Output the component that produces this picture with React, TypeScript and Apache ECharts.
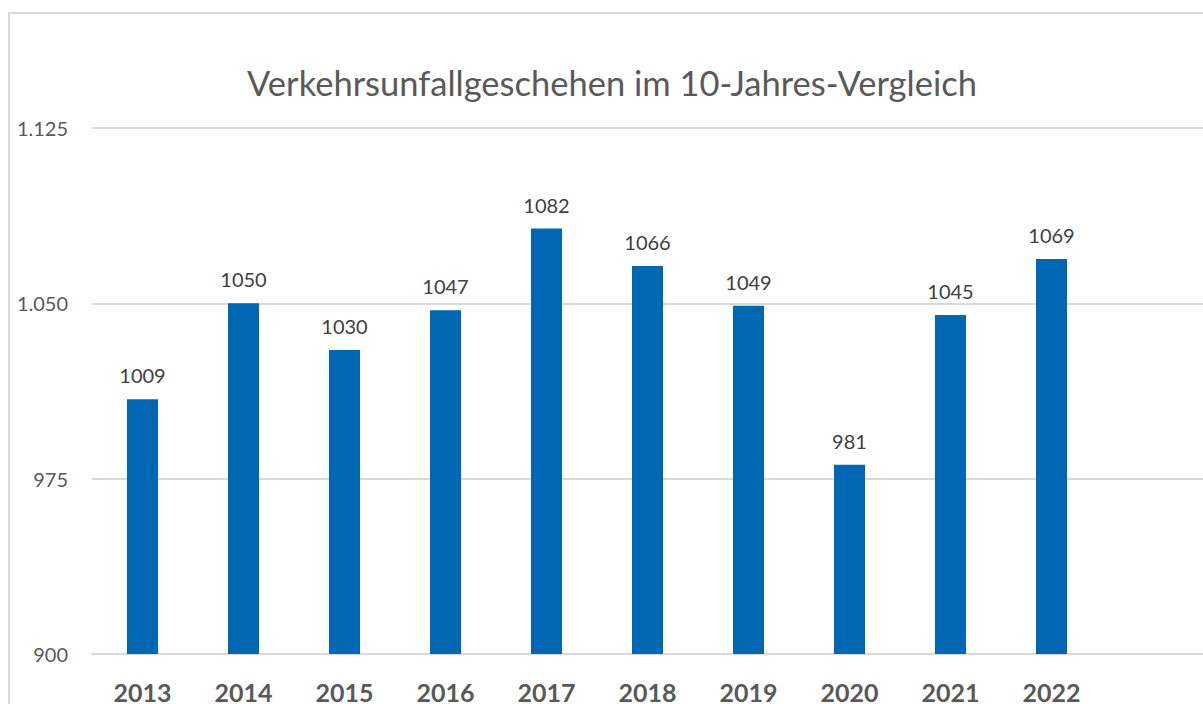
import React, { useEffect, useRef } from "react";
import * as echarts from "echarts";

const categories = ["2013", "2014", "2015", "2016", "2017", "2018", "2019", "2020", "2021", "2022", ""];
const values = [1009, 1050, 1030, 1047, 1082, 1066, 1049, 981, 1045, 1069, null];
const titleText = "Verkehrsunfallgeschehen im 10-Jahres-Vergleich";

export default function App() {
  const ref = useRef<HTMLDivElement>(null);
  useEffect(() => {
    if (!ref.current) return;
    const chart = echarts.init(ref.current, null, { renderer: "svg" });
    chart.setOption({
      animation: false,
      backgroundColor: "#ffffff",
      textStyle: { fontFamily: "Lato" },
      graphic: [
        {
          type: "rect",
          shape: { x: 9, y: 13, width: 1400, height: 900 },
          style: { fill: "none", stroke: "#d9d9d9", lineWidth: 2 },
          silent: true,
          z: -1,
        },
        {
          type: "text",
          x: 612,
          y: 82,
          style: {
            text: titleText,
            fontFamily: "Lato",
            fontSize: 34.5,
            fill: "#595959",
            textAlign: "center",
            textVerticalAlign: "middle",
          },
        },
      ],
      grid: { left: 92, top: 128, width: 1111, height: 531, containLabel: false },
      xAxis: {
        type: "category",
        data: categories,
        axisLine: { show: true, lineStyle: { color: "#d9d9d9", width: 2 } },
        axisTick: { show: false },
        axisLabel: {
          interval: 0,
          margin: 25,
          fontSize: 25,
          fontWeight: "bold",
          color: "#595959",
          fontFamily: "Lato",
        },
      },
      yAxis: {
        type: "value",
        min: 900,
        max: 1125,
        interval: 75,
        axisLine: { show: false },
        axisTick: { show: false },
        splitLine: { lineStyle: { color: "#d9d9d9", width: 2 } },
        axisLabel: {
          margin: 24,
          fontSize: 20,
          color: "#595959",
          fontFamily: "Lato",
          padding: [2, 0, 0, 0],
          formatter: (v: number) => {
            const s = String(v);
            return s.length > 3 ? s.slice(0, s.length - 3) + "." + s.slice(-3) : s;
          },
        },
      },
      series: [
        {
          type: "bar",
          data: values,
          barWidth: 31,
          itemStyle: { color: "#0067b3" },
          label: {
            show: true,
            position: "top",
            distance: 14,
            fontSize: 20,
            color: "#404040",
            fontFamily: "Lato",
          },
        },
      ],
    });
    return () => chart.dispose();
  }, []);
  return (
    <div
      ref={ref}
      style={{ position: "absolute", left: 0, top: 0, width: 1203, height: 704 }}
    />
  );
}
